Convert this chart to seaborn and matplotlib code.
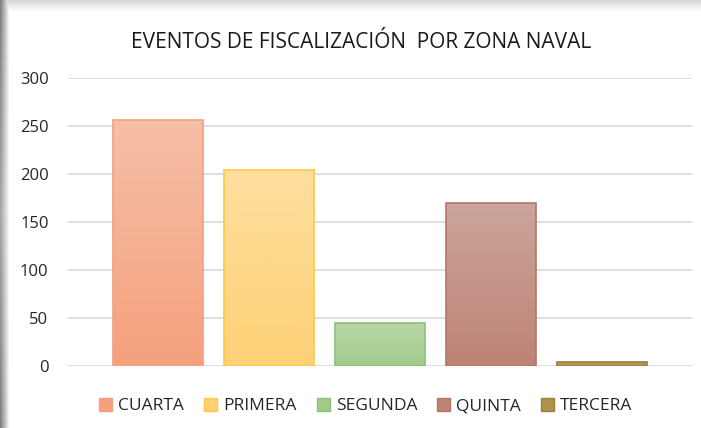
import matplotlib
matplotlib.use("Agg")
import matplotlib.pyplot as plt
import seaborn as sns
import numpy as np
import pandas as pd

zonas = ["CUARTA", "PRIMERA", "SEGUNDA", "QUINTA", "TERCERA"]
eventos = [256, 204, 45, 170, 4]
color_top = ["#F6BFA7", "#FEDF9E", "#B9D8A9", "#CCA59B", "#BA9E62"]
color_bottom = ["#F5A17D", "#FED176", "#A1CB8B", "#BD8375", "#B0924F"]
color_edge = ["#F2A07E", "#FFC940", "#8DC074", "#B47565", "#9C7F3C"]

df = pd.DataFrame({"zona": zonas, "eventos": eventos})

sns.set_style("white")
plt.rcParams["font.family"] = ["Open Sans", "DejaVu Sans"]

fig = plt.figure(figsize=(7.01, 4.28), dpi=100)

# sombra del recorte de pantalla (izquierda y arriba)
bg = fig.add_axes([0, 0, 1, 1], zorder=-5)
h, w = 428, 701
xs = np.arange(w)
ys = np.arange(h)
left = np.clip((9 - xs) / 9, 0, 1)[None, :] * (0.35 + 0.15 * np.abs(np.linspace(-1, 1, h)))[:, None]
top = np.clip((11 - ys) / 11, 0, 1)[:, None] * 0.15 * np.ones(w)[None, :]
shade = np.maximum(left, top)
img = np.ones((h, w, 3)) * (1 - shade[..., None])
bg.imshow(img, aspect="auto", extent=[0, 1, 0, 1])
bg.axis("off")

ax = fig.add_axes([0.097, 0.145, 0.89, 0.673])
sns.barplot(data=df, x="zona", y="eventos", hue="zona", palette=color_bottom,
            width=0.81, legend=False, ax=ax, saturation=1)

# degradado vertical dentro de cada barra
for p, c1, c2, ec in zip(ax.patches, color_bottom, color_top, color_edge):
    x0, y0 = p.get_x(), p.get_y()
    bw, bh = p.get_width(), p.get_height()
    c1 = np.array(matplotlib.colors.to_rgb(c1))
    c2 = np.array(matplotlib.colors.to_rgb(c2))
    t = np.linspace(0, 1, 256)[:, None, None]
    grad = c1 * (1 - t) + c2 * t
    im = ax.imshow(grad, extent=[x0, x0 + bw, y0, y0 + bh], origin="lower",
                   aspect="auto", zorder=2)
    im.set_clip_path(p)
    p.set_edgecolor(ec)
    p.set_linewidth(1.2)
    p.set_zorder(3)
    p.set_facecolor("none")

ax.set_xlim(-0.81, 4.81)
ax.set_ylim(0, 300)
ax.set_yticks(range(0, 301, 50))
ax.yaxis.grid(True, color="#D9D9D9", linewidth=1.2, zorder=0)
ax.set_axisbelow(True)
for s in ax.spines.values():
    s.set_visible(False)
ax.set_xticks([])
ax.set_xlabel("")
ax.set_ylabel("")
ax.tick_params(axis="y", length=0, pad=14, labelsize=12, labelcolor="#262626")

fig.text(0.515, 0.9, "EVENTOS DE FISCALIZACIÓN  POR ZONA NAVAL",
         ha="center", va="center", fontsize=15, color="#1a1a1a")

handles = [matplotlib.patches.Patch(facecolor=c, edgecolor=e, linewidth=1)
           for c, e in zip(color_bottom, color_edge)]
fig.legend(handles, zonas, loc="center", bbox_to_anchor=(0.522, 0.051), ncol=5,
           frameon=False, fontsize=12.5, handlelength=0.75, handleheight=0.75,
           handletextpad=0.35, columnspacing=1.15, labelcolor="#262626")

fig.savefig("out.png", dpi=100)
